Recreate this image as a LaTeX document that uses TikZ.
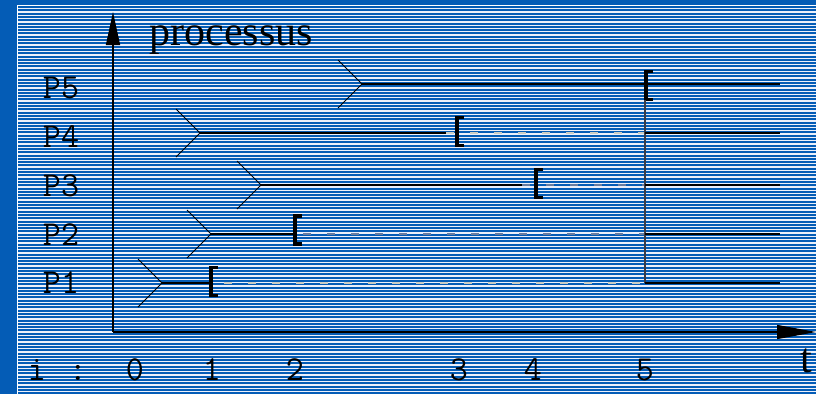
\documentclass[tikz,border=0pt]{standalone}
\usepackage{fontspec}
\setmainfont{Liberation Serif}
\usetikzlibrary{arrows.meta, positioning, calc}
\definecolor{slideblue}{RGB}{4,92,182}
\definecolor{stripewhite}{RGB}{236,240,250}
\definecolor{waitlight}{RGB}{205,205,195}
\definecolor{waitgray}{RGB}{105,125,160}
\definecolor{blockgray}{RGB}{60,60,70}

\begin{document}
\begin{tikzpicture}[x=1pt, y=-1pt,
    axis/.style={line width=1.2pt},
    run/.style={line width=1.1pt},
    arm/.style={line width=0.9pt},
    wait/.style={line width=1.2pt, dash pattern=on 8pt off 16pt},
    bracket/.style={line width=3.2pt, line cap=butt, line join=miter},
    plabel/.style={font=\fontsize{35}{37}\selectfont\ttfamily, anchor=base},
    bigtext/.style={font=\fontsize{42}{44}\selectfont, anchor=base west}]
  \useasboundingbox (0,0) rectangle (816,394);
  % fond bleu raye
  \fill[slideblue] (0,0) rectangle (816,394);
  \foreach \k in {0,...,116}
    \fill[stripewhite] (18,{8+3.3*\k}) rectangle (816,{9.3+3.3*\k});
  \draw[white, line width=1.2pt] (17.6,394) -- (17.6,5.6) -- (816,5.6);

  % axes
  \coordinate (o) at (113,332);
  \coordinate (ytop) at (113,12);
  \coordinate (xend) at (816,332);
  \draw[axis, -{Triangle[length=33pt, width=14pt]}] (o) -- (ytop);
  \draw[axis, -{Triangle[length=39pt, width=14pt]}] (o) -- (xend);
  \node[bigtext] (proc) at (146,45) {processus};
  \node[bigtext, anchor=base] (tlab) at (806,372) {t};

  % etiquettes
  \node[plabel] (l5) at (61,98) {P5};
  \node[plabel] (l4) at (61,147) {P4};
  \node[plabel] (l3) at (61,196) {P3};
  \node[plabel] (l2) at (61,245) {P2};
  \node[plabel] (l1) at (61,293) {P1};
  \node[plabel] (li) at (37,380) {i};
  \node[plabel] (lc) at (78,380) {:};
  \node[plabel] (i0) at (135,380) {0};
  \node[plabel] (i1) at (212,380) {1};
  \node[plabel] (i2) at (295,380) {2};
  \node[plabel] (i3) at (459,380) {3};
  \node[plabel] (i4) at (533,380) {4};
  \node[plabel] (i5) at (645,380) {5};

  % debuts des processus
  \coordinate (a1) at (162,283);
  \coordinate (a2) at (211,234);
  \coordinate (a3) at (261,185);
  \coordinate (a4) at (200,133);
  \coordinate (a5) at (362,84);
  \foreach \p in {1,...,5}
    \draw[arm] ($(a\p)+(-24,-24)$) -- (a\p) -- ($(a\p)+(-24,24)$);

  % blocages
  \coordinate (b1) at (210,283);
  \coordinate (b2) at (293,234);
  \coordinate (b3) at (522,185);
  \coordinate (b4) at (446,133);
  \coordinate (k1) at (211,281.5);
  \coordinate (k2) at (295,230);
  \coordinate (k3) at (536,183.5);
  \coordinate (k4) at (457,131.5);
  \coordinate (k5) at (646,85.5);
  \foreach \p in {1,...,5}
    \draw[bracket] ($(k\p)+(7,-14)$) -| ($(k\p)+(0,14)$) -- ++(7,0);

  % reprise a t=5
  \coordinate (r1) at (645,283);
  \coordinate (r2) at (645,234);
  \coordinate (r3) at (645,185);
  \coordinate (r4) at (645,133);
  \coordinate (e1) at (780,283);
  \coordinate (e2) at (780,234);
  \coordinate (e3) at (780,185);
  \coordinate (e4) at (780,133);
  \coordinate (e5) at (780,84);

  \draw[run] (a1) -- (b1);
  \draw[run] (a2) -- (b2);
  \draw[run] (a3) -- (b3);
  \draw[run] (a4) -- (b4);
  \draw[run] (a5) -- (e5);

  \draw[wait, waitlight] ($(b1)+(14,0)$) -- (r1);
  \draw[wait, waitgray] ($(b2)+(10,0)$) -- (r2);
  \draw[wait, waitgray] (b3) -- (r3);
  \draw[wait, waitlight] (b4) -- (r4);

  \draw[line width=1.2pt, blockgray] ($(k5)+(-1,14)$) -- (r1);
  \draw[run] (r1) -- (e1);
  \draw[run] (r2) -- (e2);
  \draw[run] (r3) -- (e3);
  \draw[run] (r4) -- (e4);
\end{tikzpicture}
\end{document}
